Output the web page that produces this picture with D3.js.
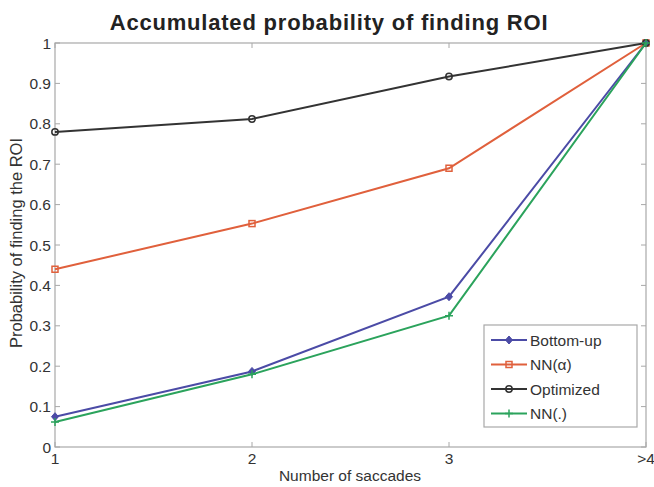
<!DOCTYPE html>
<html><head><meta charset="utf-8">
<script src="https://cdn.jsdelivr.net/npm/d3@7"></script>
<style>body{margin:0;background:#fff;} text{font-family:"Liberation Sans",Arial,sans-serif;}</style>
</head><body>
<svg id="c" width="654" height="487"></svg>
<script>
const categories = ["1","2","3",">4"];
const bottomUp = [0.075, 0.187, 0.372, 1.0];
const nnAlpha = [0.44, 0.553, 0.69, 1.0];
const optimized = [0.78, 0.812, 0.917, 1.0];
const nnDot = [0.062, 0.18, 0.325, 1.0];
const yTicks = [0,0.1,0.2,0.3,0.4,0.5,0.6,0.7,0.8,0.9,1];
const yTickLabels = ["0","0.1","0.2","0.3","0.4","0.5","0.6","0.7","0.8","0.9","1"];

const series = [
  {name:"Bottom-up", values:bottomUp, color:"#4b4ba6", marker:"diamond"},
  {name:"NN(\u03b1)", values:nnAlpha, color:"#e0603c", marker:"square"},
  {name:"Optimized", values:optimized, color:"#333333", marker:"circle"},
  {name:"NN(.)", values:nnDot, color:"#2ba35c", marker:"plus"}
];

const svg = d3.select("#c");
const L=55, R=646, T=43, B=447;
const x = d3.scalePoint().domain(categories).range([L,R]);
const y = d3.scaleLinear().domain([0,1]).range([B,T]);
const axisColor="#a8a8a8";
const fs = 15.5;

svg.append("rect").attr("x",L).attr("y",T).attr("width",R-L).attr("height",B-T)
  .attr("fill","none").attr("stroke",axisColor).attr("stroke-width",1.2);

const tl=5;
yTicks.forEach(v=>{
  svg.append("line").attr("x1",L).attr("x2",L+tl).attr("y1",y(v)).attr("y2",y(v)).attr("stroke",axisColor);
  svg.append("line").attr("x1",R).attr("x2",R-tl).attr("y1",y(v)).attr("y2",y(v)).attr("stroke",axisColor);
});
categories.forEach(c=>{
  svg.append("line").attr("x1",x(c)).attr("x2",x(c)).attr("y1",B).attr("y2",B-tl).attr("stroke",axisColor);
  svg.append("line").attr("x1",x(c)).attr("x2",x(c)).attr("y1",T).attr("y2",T+tl).attr("stroke",axisColor);
});

yTicks.forEach((v,i)=>{
  svg.append("text").attr("x",L-4).attr("y",y(v)+5.5).attr("text-anchor","end")
    .attr("font-size",fs).attr("fill","#333").text(yTickLabels[i]);
});
categories.forEach(c=>{
  svg.append("text").attr("x",x(c)).attr("y",B+17).attr("text-anchor","middle")
    .attr("font-size",fs).attr("fill","#333").text(c);
});

svg.append("text").attr("x",350).attr("y",481).attr("text-anchor","middle")
  .attr("font-size",fs).attr("fill","#333").text("Number of saccades");
svg.append("text").attr("transform","translate(22,243) rotate(-90)").attr("text-anchor","middle")
  .attr("font-size",16.5).attr("fill","#333").text("Probability of finding the ROI");
svg.append("text").attr("x",329).attr("y",30).attr("text-anchor","middle")
  .attr("font-size",22).attr("font-weight","bold").attr("letter-spacing",0.8).attr("fill","#222")
  .text("Accumulated probability of finding ROI");

function drawMarker(g, cx, cy, type, color){
  if(type==="diamond"){
    g.append("path").attr("d",`M${cx},${cy-4}L${cx+3.5},${cy}L${cx},${cy+4}L${cx-3.5},${cy}Z`)
      .attr("fill",color).attr("stroke",color);
  } else if(type==="square"){
    g.append("rect").attr("x",cx-3).attr("y",cy-3).attr("width",6).attr("height",6)
      .attr("fill","none").attr("stroke",color).attr("stroke-width",1.5);
  } else if(type==="circle"){
    g.append("circle").attr("cx",cx).attr("cy",cy).attr("r",3.2)
      .attr("fill","none").attr("stroke",color).attr("stroke-width",1.5);
  } else if(type==="plus"){
    g.append("path").attr("d",`M${cx-4},${cy}H${cx+4}M${cx},${cy-4}V${cy+4}`)
      .attr("stroke",color).attr("stroke-width",1.5);
  }
}

const line = d3.line().x((d,i)=>x(categories[i])).y(d=>y(d));
series.forEach(s=>{
  const g = svg.append("g");
  g.append("path").attr("d",line(s.values)).attr("fill","none")
    .attr("stroke",s.color).attr("stroke-width",2);
  s.values.forEach((v,i)=>drawMarker(g,x(categories[i]),y(v),s.marker,s.color));
});

const lg = svg.append("g");
lg.append("rect").attr("x",484).attr("y",325).attr("width",153).attr("height",102)
  .attr("fill","#fff").attr("stroke",axisColor).attr("stroke-width",1.2);
series.forEach((s,i)=>{
  const ly = 340 + i*24.5;
  lg.append("line").attr("x1",491).attr("x2",527).attr("y1",ly).attr("y2",ly)
    .attr("stroke",s.color).attr("stroke-width",2);
  drawMarker(lg,509,ly,s.marker,s.color);
  lg.append("text").attr("x",530).attr("y",ly+5.5).attr("font-size",fs).attr("fill","#333").text(s.name);
});
</script>
</body></html>
